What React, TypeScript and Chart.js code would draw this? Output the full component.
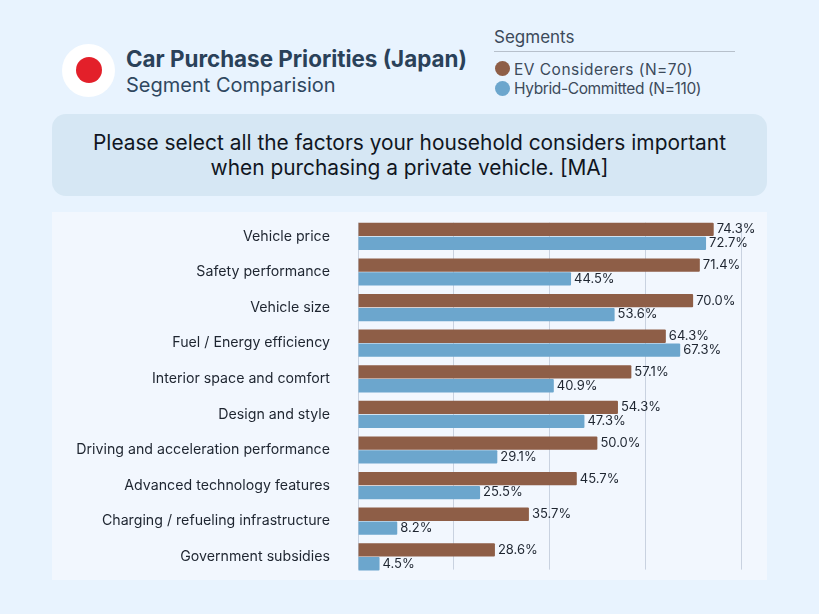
import React, { useEffect, useRef } from "react";
import { Chart, registerables } from "chart.js";

Chart.register(...registerables);

const categories = [
  "Vehicle price",
  "Safety performance",
  "Vehicle size",
  "Fuel / Energy efficiency",
  "Interior space and comfort",
  "Design and style",
  "Driving and acceleration performance",
  "Advanced technology features",
  "Charging / refueling infrastructure",
  "Government subsidies",
];
const evConsiderers = [74.3, 71.4, 70.0, 64.3, 57.1, 54.3, 50.0, 45.7, 35.7, 28.6];
const hybridCommitted = [72.7, 44.5, 53.6, 67.3, 40.9, 47.3, 29.1, 25.5, 8.2, 4.5];
const xTicks = [0, 20, 40, 60, 80];

const BROWN = "#8E5E47";
const BLUE = "#6CA6CD";
const PANEL = "#F2F7FE";
const UI_FONT = "Inter, 'Open Sans', sans-serif";

const valueLabels = {
  id: "valueLabels",
  afterDatasetsDraw(chart: any) {
    const { ctx } = chart;
    ctx.save();
    ctx.fillStyle = "#1E2530";
    ctx.font = `13px ${UI_FONT}`;
    ctx.textBaseline = "middle";
    ctx.textAlign = "left";
    chart.data.datasets.forEach((ds: any, i: number) => {
      chart.getDatasetMeta(i).data.forEach((bar: any, j: number) => {
        ctx.fillText(`${ds.data[j].toFixed(1)}%`, bar.x + 3, bar.y);
      });
    });
    ctx.restore();
  },
};

// The reference's grid lines stop short of the band edges.
const trimGrid = {
  id: "trimGrid",
  beforeDatasetsDraw(chart: any) {
    const { ctx, chartArea } = chart;
    ctx.save();
    ctx.fillStyle = PANEL;
    ctx.fillRect(chartArea.left - 1, chartArea.top - 1, chartArea.width + 3, 5);
    ctx.fillRect(chartArea.left - 1, chartArea.bottom - 5, chartArea.width + 3, 7);
    ctx.restore();
  },
};

function BarChart() {
  const ref = useRef<HTMLCanvasElement>(null);
  useEffect(() => {
    const chart = new Chart(ref.current!, {
      type: "bar",
      data: {
        labels: categories,
        datasets: [
          {
            label: "EV Considerers (N=70)",
            data: evConsiderers,
            backgroundColor: BROWN,
            categoryPercentage: 0.78,
            barPercentage: 0.96,
            borderRadius: 1,
          },
          {
            label: "Hybrid-Committed (N=110)",
            data: hybridCommitted,
            backgroundColor: BLUE,
            categoryPercentage: 0.78,
            barPercentage: 0.96,
            borderRadius: 1,
          },
        ],
      },
      options: {
        indexAxis: "y",
        animation: false,
        responsive: false,
        maintainAspectRatio: false,
        layout: { padding: { left: 0, right: 26, top: 6.6, bottom: 5.4 } },
        plugins: { legend: { display: false }, tooltip: { enabled: false } },
        scales: {
          x: {
            min: 0,
            max: 80,
            afterBuildTicks: (axis: any) => {
              axis.ticks = xTicks.map((value) => ({ value }));
            },
            ticks: { display: false },
            grid: { color: "#C9D2E0", lineWidth: 1, drawTicks: false },
            border: { display: false },
          },
          y: {
            afterFit: (axis: any) => {
              axis.width = 306;
            },
            ticks: {
              color: "#1E2530",
              font: { family: UI_FONT, size: 14.2, lineHeight: 0.7 },
              padding: 0,
              autoSkip: false,
            },
            grid: {
              display: true,
              drawOnChartArea: false,
              drawTicks: true,
              tickLength: 28,
              tickColor: "rgba(0,0,0,0)",
            },
            border: { display: false },
          },
        },
      },
      plugins: [trimGrid, valueLabels],
    } as any);
    return () => chart.destroy();
  }, []);
  return (
    <canvas
      ref={ref}
      width={715}
      height={368}
      style={{ position: "absolute", left: 52, top: 212, width: 715, height: 368 }}
    />
  );
}

const abs = (left: number, top: number): React.CSSProperties => ({
  position: "absolute",
  left,
  top,
  whiteSpace: "nowrap",
});

export default function App() {
  return (
    <div
      style={{
        position: "fixed",
        left: 0,
        top: 0,
        width: 819,
        height: 614,
        overflow: "hidden",
        background: "#E8F3FE",
        fontFamily: UI_FONT,
      }}
    >
      <div style={{ ...abs(62, 44), width: 53, height: 53, borderRadius: "50%", background: "#FFFFFF" }} />
      <div style={{ ...abs(76, 57), width: 26, height: 26, borderRadius: "50%", background: "#E3202A" }} />
      <div style={{ ...abs(126, 45), fontSize: 22.4, lineHeight: "28px", fontWeight: 700, color: "#2A4159" }}>
        Car Purchase Priorities (Japan)
      </div>
      <div style={{ ...abs(126, 72), fontSize: 20, lineHeight: "26px", color: "#2F4760" }}>Segment Comparision</div>

      <div style={{ ...abs(494, 27), fontSize: 17, lineHeight: "20px", color: "#3C4A5A" }}>Segments</div>
      <div style={{ ...abs(494, 51), width: 241, height: 1, background: "#B7C0CB" }} />
      <div style={{ ...abs(495, 61), width: 15, height: 15, borderRadius: "50%", background: BROWN }} />
      <div style={{ ...abs(514, 60), fontSize: 15.5, lineHeight: "20px", letterSpacing: 0.48, color: "#3C4A5A" }}>
        EV Considerers (N=70)
      </div>
      <div style={{ ...abs(495, 81), width: 15, height: 15, borderRadius: "50%", background: BLUE }} />
      <div style={{ ...abs(514, 79), fontSize: 15.5, lineHeight: "20px", letterSpacing: -0.37, color: "#3C4A5A" }}>
        Hybrid-Committed (N=110)
      </div>

      <div
        style={{
          ...abs(52, 114),
          width: 715,
          height: 82,
          borderRadius: 14,
          background: "#D6E7F4",
          display: "flex",
          alignItems: "center",
          justifyContent: "center",
          textAlign: "center",
          whiteSpace: "normal",
          fontSize: 20.9,
          lineHeight: "25px",
          color: "#10161F",
        }}
      >
        Please select all the factors your household considers important
        <br />
        when purchasing a private vehicle. [MA]
      </div>

      <div style={{ ...abs(52, 212), width: 715, height: 368, background: PANEL }} />
      <BarChart />
    </div>
  );
}
